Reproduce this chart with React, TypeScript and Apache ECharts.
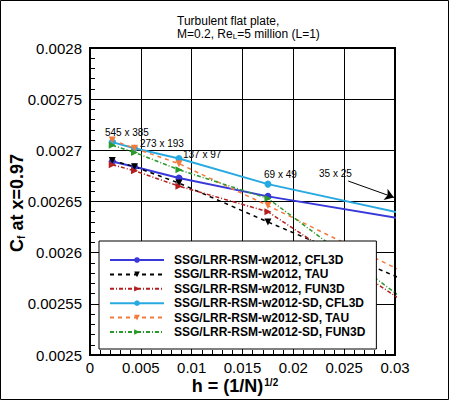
import React, { useEffect, useRef } from "react";
import * as echarts from "echarts";

// grid spacing h = (1/N)^(1/2) for each mesh
const meshLabels = ["545 x 385", "273 x 193", "137 x 97", "69 x 49", "35 x 25"];
const hValues = [0.002188, 0.004376, 0.00875, 0.0175, 0.035];

const seriesNames = [
  "SSG/LRR-RSM-w2012, CFL3D",
  "SSG/LRR-RSM-w2012, TAU",
  "SSG/LRR-RSM-w2012, FUN3D",
  "SSG/LRR-RSM-w2012-SD, CFL3D",
  "SSG/LRR-RSM-w2012-SD, TAU",
  "SSG/LRR-RSM-w2012-SD, FUN3D",
];

// Cf at x=0.97, one value per mesh
const cfl3d = [0.002689, 0.002684, 0.002673, 0.002655, 0.002626];
const tau = [0.00269, 0.002684, 0.002668, 0.00263, 0.002556];
const fun3d = [0.002686, 0.00268, 0.002665, 0.00264, 0.002525];
const cfl3dSD = [0.002708, 0.002702, 0.002692, 0.002667, 0.002629];
const tauSD = [0.00271, 0.002702, 0.002687, 0.002646, 0.002561];
const fun3dSD = [0.002705, 0.002698, 0.002681, 0.002653, 0.002524];

const FONT = "Liberation Sans, Arial, Helvetica, sans-serif";

const fmt = (v: number) => String(+v.toFixed(6));

const App: React.FC = () => {
  const chartRef = useRef<HTMLDivElement>(null);

  useEffect(() => {
    document.body.style.margin = "0";
    const chart = echarts.init(chartRef.current!, undefined, { renderer: "svg" });

    const looks = [
      { values: cfl3d, color: "#3838d8", symbol: "circle", rotate: 0, dash: "solid" as any, width: 2 },
      { values: tau, color: "#000000", symbol: "triangle", rotate: 180, dash: [4, 4], width: 1.5 },
      { values: fun3d, color: "#b41e1e", symbol: "triangle", rotate: -90, dash: [4, 2, 1, 2], width: 1.5 },
      { values: cfl3dSD, color: "#27a9e1", symbol: "circle", rotate: 0, dash: "solid" as any, width: 2 },
      { values: tauSD, color: "#f47a3c", symbol: "triangle", rotate: 180, dash: [4, 4], width: 1.5 },
      { values: fun3dSD, color: "#2a9a2a", symbol: "triangle", rotate: -90, dash: [4, 2, 1, 2], width: 1.5 },
    ];

    const series: any[] = looks.map((s, i) => ({
      name: seriesNames[i],
      type: "line",
      data: hValues.map((h, j) => [h, s.values[j]]),
      symbol: s.symbol,
      symbolSize: 7,
      symbolRotate: s.rotate,
      showSymbol: true,
      color: s.color,
      itemStyle: { color: s.color },
      lineStyle: { color: s.color, width: s.width, type: s.dash },
      clip: true,
      z: 3,
    }));

    series[0].markLine = {
      silent: true,
      symbol: ["none", "arrow"],
      symbolSize: 9,
      label: { show: false },
      lineStyle: { color: "#000", type: "solid", width: 1 },
      data: [[{ coord: [0.0254, 0.00267] }, { coord: [0.0299, 0.002654] }]],
    };

    const meshPos = [
      [105, 132],
      [140, 143],
      [183, 154],
      [264, 174],
      [319, 173],
    ];

    chart.setOption({
      animation: false,
      grid: {
        left: 90,
        right: 55,
        top: 48,
        bottom: 46,
        show: true,
        borderColor: "#000",
        borderWidth: 2,
      },
      legend: {
        orient: "vertical",
        left: 99,
        top: 241,
        backgroundColor: "#fff",
        borderColor: "#000",
        borderWidth: 1,
        borderRadius: 0,
        padding: [13, 11, 11, 10],
        itemWidth: 54,
        itemHeight: 7,
        itemGap: 2.4,
        data: seriesNames,
        textStyle: {
          fontFamily: FONT,
          fontWeight: "bold",
          fontSize: 12,
          color: "#000",
          padding: [0, 0, 0, 5],
        },
        z: 10,
      },
      xAxis: {
        type: "value",
        min: 0,
        max: 0.03,
        interval: 0.005,
        axisLine: { show: true, lineStyle: { color: "#000", width: 2 } },
        axisTick: { show: true, inside: true, length: 5, lineStyle: { color: "#000" } },
        minorTick: { show: true, splitNumber: 5, length: 5, lineStyle: { color: "#000" } },
        splitLine: { show: true, lineStyle: { color: "#000", width: 1 } },
        axisLabel: {
          formatter: fmt,
          fontFamily: FONT,
          fontSize: 15,
          color: "#000",
          margin: 5,
        },
      },
      yAxis: {
        type: "value",
        min: 0.0025,
        max: 0.0028,
        interval: 0.00005,
        axisLine: { show: true, lineStyle: { color: "#000", width: 2 } },
        axisTick: { show: true, inside: true, length: 5, lineStyle: { color: "#000" } },
        minorTick: { show: true, splitNumber: 5, length: 5, lineStyle: { color: "#000" } },
        splitLine: { show: true, lineStyle: { color: "#000", width: 1 } },
        axisLabel: {
          formatter: fmt,
          fontFamily: FONT,
          fontSize: 15,
          color: "#000",
          margin: 8,
        },
      },
      series,
      graphic: [
        {
          type: "rect",
          shape: { x: 0.5, y: 0.5, width: 448, height: 399 },
          style: { fill: "none", stroke: "#000", lineWidth: 1 },
          silent: true,
        },
        {
          type: "text",
          left: 177,
          top: 14,
          style: {
            text: "Turbulent flat plate,\nM=0.2, Re{sub|L}=5 million (L=1)",
            fontFamily: FONT,
            fontSize: 12,
            lineHeight: 13,
            fill: "#000",
            rich: {
              sub: { fontSize: 8, verticalAlign: "bottom", fontFamily: FONT },
            },
          },
        },
        {
          type: "text",
          x: 235,
          y: 386,
          style: {
            text: "h = (1/N){sup|1/2}",
            fontFamily: FONT,
            fontSize: 18,
            fontWeight: "bold",
            fill: "#000",
            align: "center",
            verticalAlign: "middle",
            rich: {
              sup: { fontSize: 10, verticalAlign: "top", fontFamily: FONT, fontWeight: "bold", padding: [0, 0, 8, 1] },
            },
          },
        },
        {
          type: "text",
          x: 17,
          y: 203,
          rotation: Math.PI / 2,
          style: {
            text: "C{sub|f} at x=0.97",
            fontFamily: FONT,
            fontSize: 18,
            fontWeight: "bold",
            fill: "#000",
            align: "center",
            verticalAlign: "middle",
            rich: {
              sub: { fontSize: 10, verticalAlign: "bottom", fontFamily: FONT, fontWeight: "bold", padding: [8, 0, 0, 0] },
            },
          },
        },
        ...meshLabels.map((label, i) => ({
          type: "text",
          x: meshPos[i][0],
          y: meshPos[i][1],
          z: 20,
          style: {
            text: label,
            fontFamily: FONT,
            fontSize: 10,
            fill: "#000",
            verticalAlign: "middle",
          },
        })),
      ],
    });

    return () => {
      chart.dispose();
    };
  }, []);

  return <div ref={chartRef} style={{ width: "450px", height: "401px" }} />;
};

export default App;
